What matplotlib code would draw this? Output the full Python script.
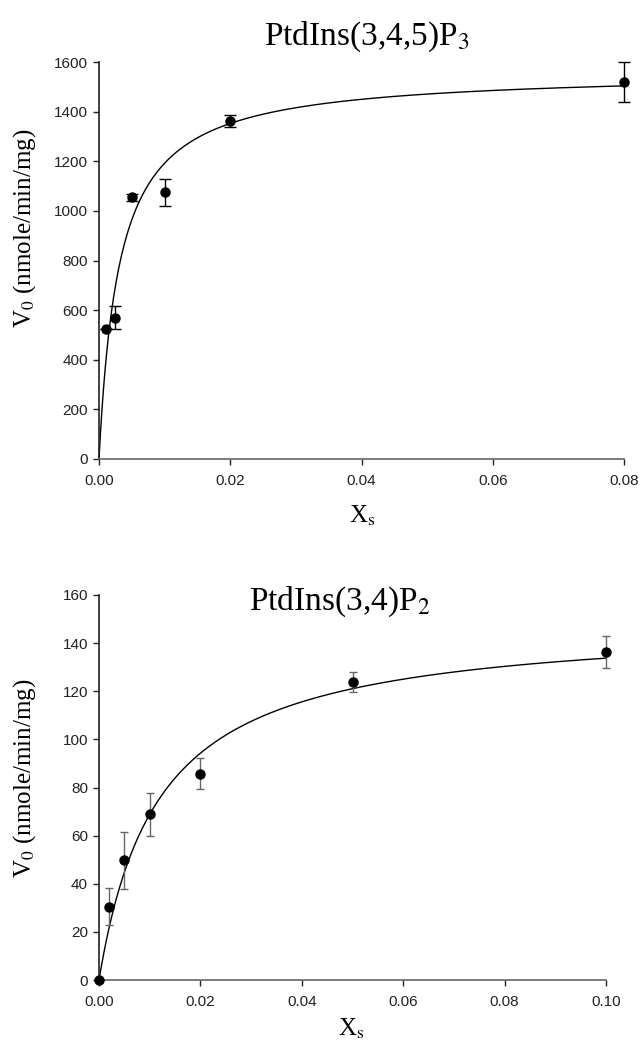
import numpy as np
import matplotlib
matplotlib.use('Agg')
import matplotlib.pyplot as plt

plt.rcParams['font.family'] = ['Liberation Sans', 'DejaVu Sans']
plt.rcParams['mathtext.fontset'] = 'stix'

# PtdIns(3,4,5)P3 data
x_p3 = [0.001, 0.0025, 0.005, 0.01, 0.02, 0.08]
v_p3 = [525, 570, 1055, 1075, 1363, 1520]
err_p3 = [0, 48, 15, 55, 23, 80]
vmax_p3, km_p3 = 1562, 0.0031

# PtdIns(3,4)P2 data
x_p2 = [0.0, 0.002, 0.005, 0.01, 0.02, 0.05, 0.10]
v_p2 = [0, 30.5, 49.7, 68.9, 85.7, 123.8, 136.3]
err_p2 = [0, 7.6, 11.7, 9.0, 6.5, 4.2, 6.5]
vmax_p2, km_p2 = 149.4, 0.0117

W, H = 640, 1044
fig = plt.figure(figsize=(W / 100, H / 100), dpi=100)

def px_axes(x0, x1, ytop, ybot):
    return fig.add_axes([x0 / W, 1 - ybot / H, (x1 - x0) / W, (ybot - ytop) / H])

ax1 = px_axes(99, 624, 62, 459)
ax2 = px_axes(99, 606, 595, 980)

def style(ax):
    ax.spines['top'].set_visible(False)
    ax.spines['right'].set_visible(False)
    ax.spines['left'].set_linewidth(1.2)
    ax.spines['left'].set_color('#222222')
    ax.spines['bottom'].set_linewidth(1.2)
    ax.spines['bottom'].set_color('#666666')
    ax.tick_params(direction='out', length=4, width=1, labelsize=11, pad=4,
                   colors='#222222')
    ax.tick_params(axis='x', pad=7)

# ----------- top panel -----------
xf = np.linspace(0, 0.08, 400)
ax1.plot(xf, vmax_p3 * xf / (km_p3 + xf), color='black', lw=1.0, zorder=2)
ax1.errorbar(x_p3, v_p3, yerr=err_p3, fmt='o', color='black', ms=6.5,
             ecolor='black', elinewidth=1, capsize=4, capthick=1, zorder=3)
ax1.set_xlim(0, 0.08)
ax1.set_ylim(0, 1600)
ax1.set_xticks([0.00, 0.02, 0.04, 0.06, 0.08])
ax1.set_xticklabels(['0.00', '0.02', '0.04', '0.06', '0.08'])
ax1.set_yticks(range(0, 1601, 200))
style(ax1)

# ----------- bottom panel -----------
xf2 = np.linspace(0, 0.10, 400)
ax2.plot(xf2, vmax_p2 * xf2 / (km_p2 + xf2), color='black', lw=1.0, zorder=2)
ax2.errorbar(x_p2, v_p2, yerr=err_p2, fmt='o', color='black', ms=6.5,
             ecolor='#666666', elinewidth=1, capsize=3, capthick=1, zorder=3)
ax2.set_xlim(0, 0.10)
ax2.set_ylim(0, 160)
ax2.set_xticks([0.00, 0.02, 0.04, 0.06, 0.08, 0.10])
ax2.set_xticklabels(['0.00', '0.02', '0.04', '0.06', '0.08', '0.10'])
ax2.set_yticks(range(0, 161, 20))
style(ax2)
for art in ax1.get_children() + ax2.get_children():
    try:
        art.set_clip_on(False)
    except Exception:
        pass

serif = 'Liberation Serif'
fig.text(367 / W, 1 - 45 / H, 'PtdIns(3,4,5)P$_3$', family=serif, fontsize=24,
         ha='center', va='baseline')
fig.text(340 / W, 1 - 610 / H, 'PtdIns(3,4)P$_2$', family=serif, fontsize=24,
         ha='center', va='baseline')

fig.text(25 / W, 1 - 228 / H, 'V$_0$ (nmole/min/mg)', family=serif, fontsize=18,
         rotation=90, ha='center', va='center')
fig.text(25 / W, 1 - 778 / H, 'V$_0$ (nmole/min/mg)', family=serif, fontsize=18,
         rotation=90, ha='center', va='center')

fig.text(362 / W, 1 - 523 / H, 'X$_\\mathrm{s}$', family=serif, fontsize=18,
         ha='center', va='baseline')
fig.text(351 / W, 1 - 1036 / H, 'X$_\\mathrm{s}$', family=serif, fontsize=18,
         ha='center', va='baseline')

fig.savefig('out.png', dpi=100)
